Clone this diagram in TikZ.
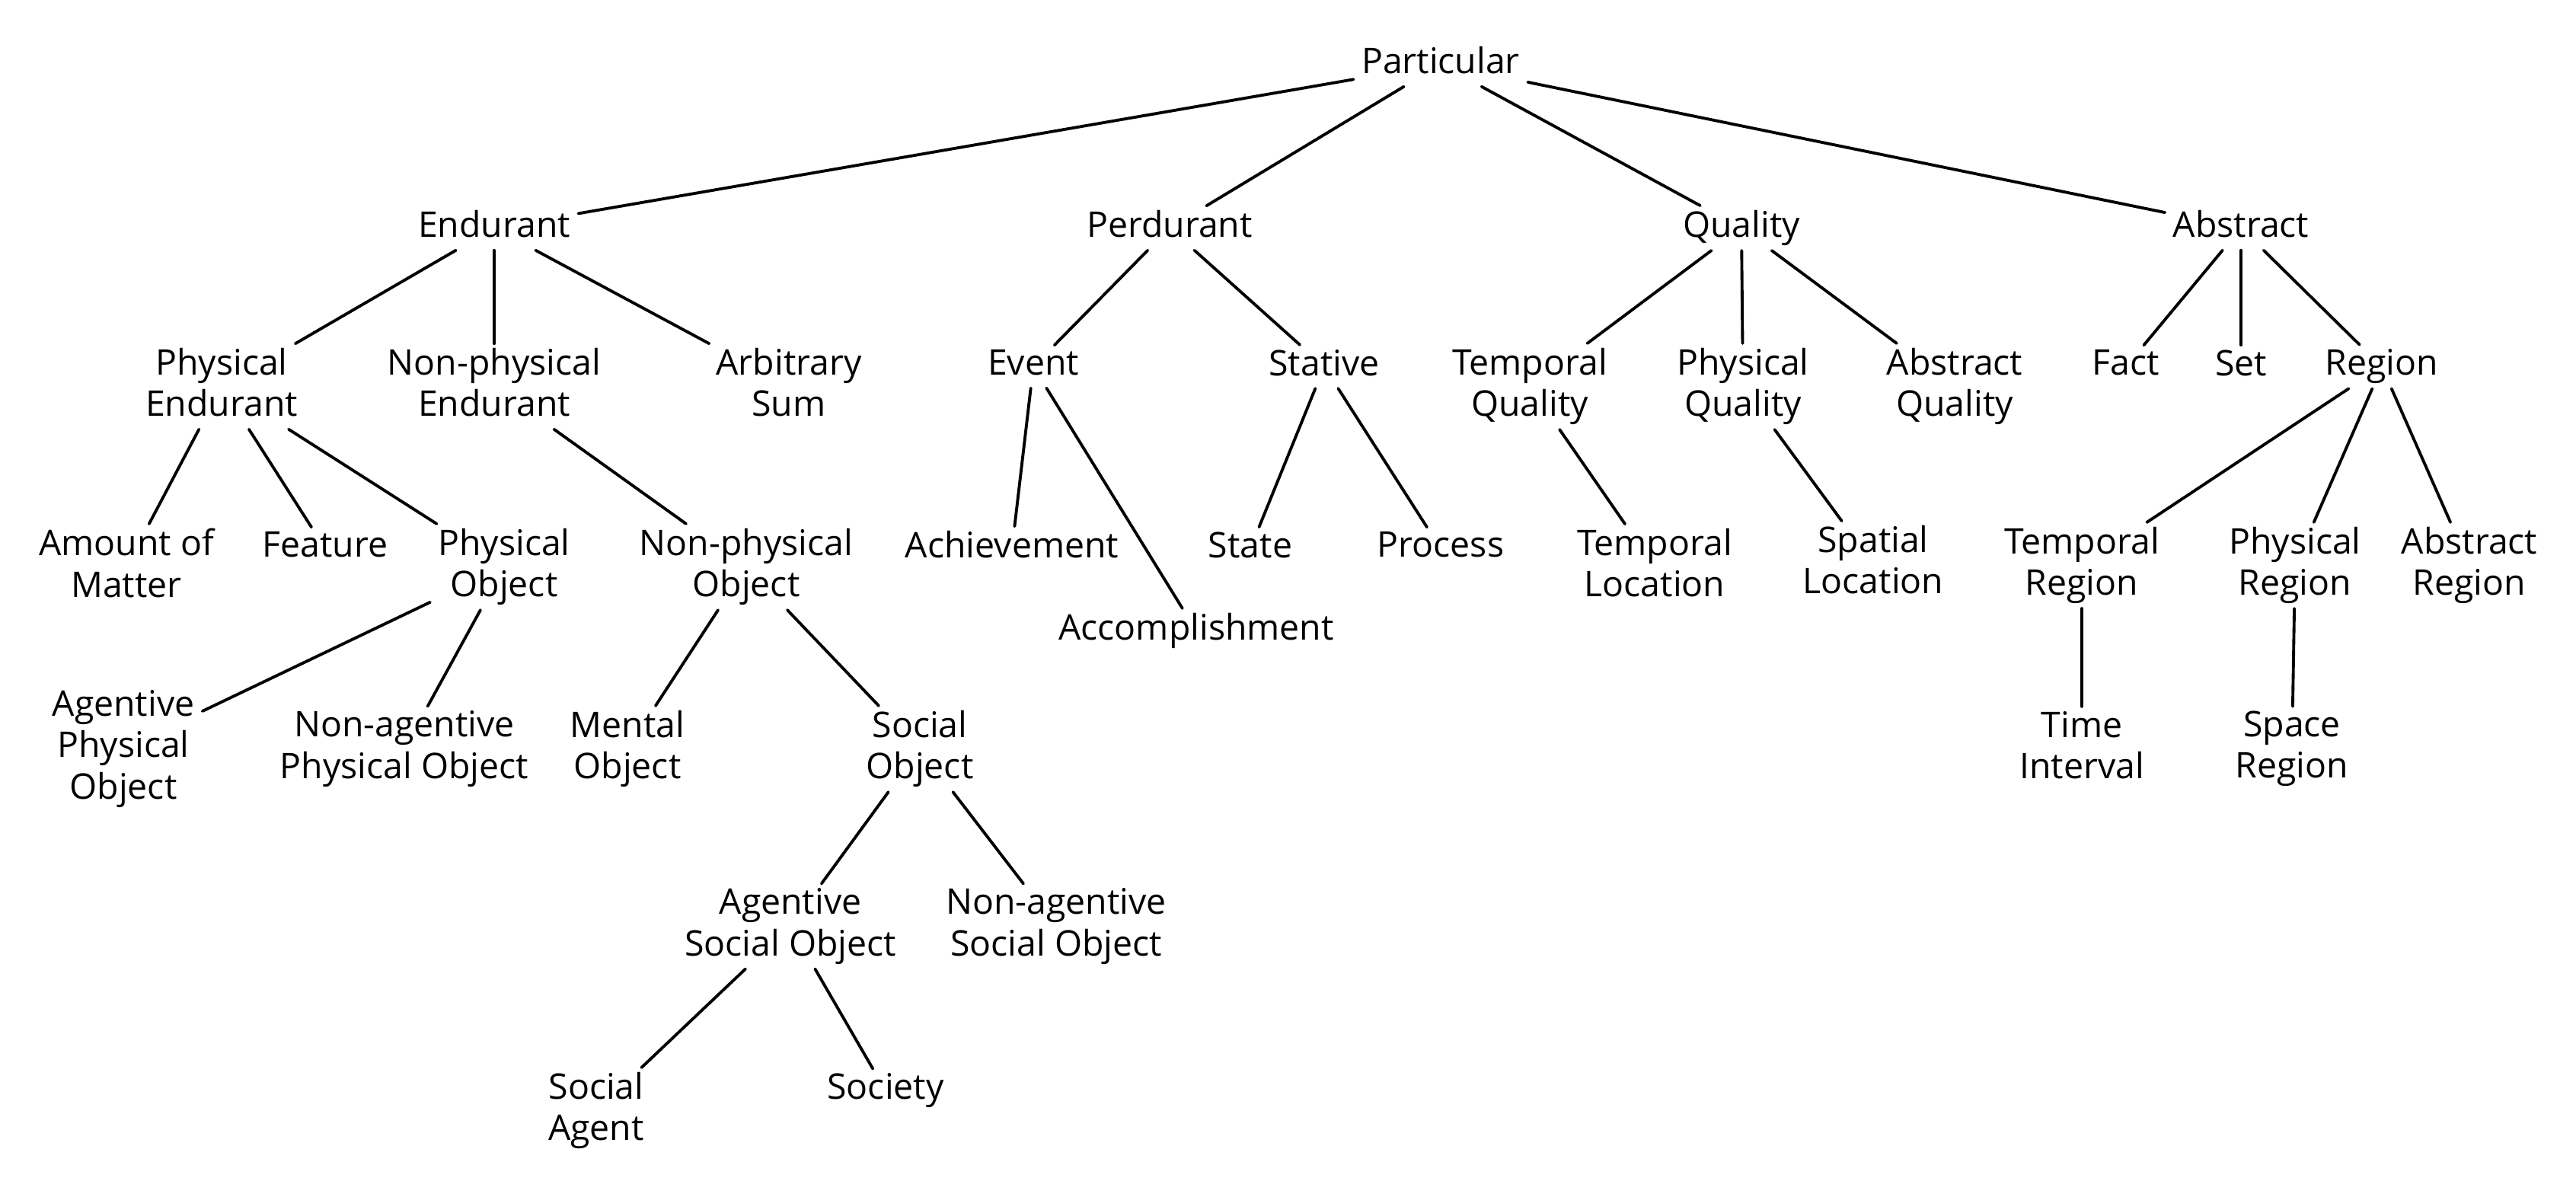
\documentclass[tikz,border=0pt]{standalone}
\usepackage{fontspec}
\setmainfont{Open Sans}
\usepackage{tikz}

\begin{document}
\begin{tikzpicture}[
			concept/.style={
				align=center, inner xsep=3pt, inner ysep=1.8pt, outer sep=0pt,
				yshift=-1.85pt,
				font=\fontsize{13.2}{15.4}\selectfont,
				execute at begin node=\rule[-3pt]{0pt}{12.3pt},
				execute at end node=\rule[-3pt]{0pt}{12.3pt}
			},
			branch/.style={draw=black, line width=1.1pt, line cap=round}
			]
			
			\useasboundingbox (0,0) rectangle (33.83,-15.50);
			
			% top and first level
			\node[concept] (part) at (18.92,-0.78) {Particular};
			\node[concept] (endu) at (6.49,-2.93) {Endurant};
			\node[concept] (perd) at (15.36,-2.93) {Perdurant};
			\node[concept] (qual) at (22.87,-2.93) {Quality};
			\node[concept] (abst) at (29.43,-2.93) {Abstract};
			
			% second level
			\node[concept] (physend) at (2.91,-5.01) {Physical\\Endurant};
			\node[concept] (nphysend) at (6.49,-5.01) {Non-physical\\Endurant};
			\node[concept] (arbsum) at (10.36,-5.01) {Arbitrary\\Sum};
			\node[concept] (event) at (13.57,-4.75) {Event};
			\node[concept] (stative) at (17.39,-4.75) {Stative};
			\node[concept] (tempqual) at (20.09,-5.01) {Temporal\\Quality};
			\node[concept] (physqual) at (22.89,-5.01) {Physical\\Quality};
			\node[concept] (absqual) at (25.67,-5.01) {Abstract\\Quality};
			\node[concept] (fact) at (27.92,-4.75) {Fact};
			\node[concept] (set) at (29.43,-4.75) {Set};
			\node[concept] (region) at (31.28,-4.75) {Region};
			
			% third level
			\node[concept] (amount) at (1.66,-7.38) {Amount of\\Matter};
			\node[concept] (feature) at (4.27,-7.14) {Feature};
			\node[concept] (physobj) at (6.62,-7.38) {Physical\\Object};
			\node[concept] (nphysobj) at (9.80,-7.38) {Non-physical\\Object};
			\node[concept] (achiev) at (13.29,-7.14) {Achievement};
			\node[concept] (accompl) at (15.71,-8.22) {Accomplishment};
			\node[concept] (state) at (16.42,-7.14) {State};
			\node[concept] (process) at (18.92,-7.14) {Process};
			\node[concept] (temploc) at (21.73,-7.38) {Temporal\\Location};
			\node[concept] (spatloc) at (24.60,-7.34) {Spatial\\Location};
			\node[concept] (tempreg) at (27.34,-7.36) {Temporal\\Region};
			\node[concept] (physreg) at (30.14,-7.36) {Physical\\Region};
			\node[concept] (absreg) at (32.43,-7.36) {Abstract\\Region};
			
			% fourth level and below
			\node[concept] (agphysobj) at (1.62,-9.77) {Agentive\\Physical\\Object};
			\node[concept] (nagphysobj) at (5.31,-9.77) {Non-agentive\\Physical Object};
			\node[concept] (mentobj) at (8.24,-9.77) {Mental\\Object};
			\node[concept] (socobj) at (12.08,-9.77) {Social\\Object};
			\node[concept] (timeint) at (27.34,-9.77) {Time\\Interval};
			\node[concept] (spacereg) at (30.10,-9.77) {Space\\Region};
			\node[concept] (agsocobj) at (10.38,-12.10) {Agentive\\Social Object};
			\node[concept] (nagsocobj) at (13.87,-12.10) {Non-agentive\\Social Object};
			\node[concept] (socagent) at (7.83,-14.52) {Social\\Agent};
			\node[concept] (society) at (11.63,-14.26) {Society};
			
			% branches
			\draw[branch] (part) -- (endu);
			\draw[branch] (part) -- (perd);
			\draw[branch] (part) -- (qual);
			\draw[branch] (part) -- (abst);
			
			\draw[branch] (endu) -- (physend);
			\draw[branch] (endu) -- (nphysend);
			\draw[branch] (endu) -- (arbsum);
			\draw[branch] (physend) -- (amount);
			\draw[branch] (physend) -- (feature);
			\draw[branch] (physend) -- (physobj);
			\draw[branch] (physobj) -- (agphysobj);
			\draw[branch] (physobj) -- (nagphysobj);
			\draw[branch] (nphysend) -- (nphysobj);
			\draw[branch] (nphysobj) -- (mentobj);
			\draw[branch] (nphysobj) -- (socobj);
			\draw[branch] (socobj) -- (agsocobj);
			\draw[branch] (socobj) -- (nagsocobj);
			\draw[branch] (agsocobj) -- (socagent);
			\draw[branch] (agsocobj) -- (society);
			
			\draw[branch] (perd) -- (event);
			\draw[branch] (perd) -- (stative);
			\draw[branch] (event) -- (achiev);
			\draw[branch] (event) -- (accompl);
			\draw[branch] (stative) -- (state);
			\draw[branch] (stative) -- (process);
			
			\draw[branch] (qual) -- (tempqual);
			\draw[branch] (qual) -- (physqual);
			\draw[branch] (qual) -- (absqual);
			\draw[branch] (tempqual) -- (temploc);
			\draw[branch] (physqual) -- (spatloc);
			
			\draw[branch] (abst) -- (fact);
			\draw[branch] (abst) -- (set);
			\draw[branch] (abst) -- (region);
			\draw[branch] (region) -- (tempreg);
			\draw[branch] (region) -- (physreg);
			\draw[branch] (region) -- (absreg);
			\draw[branch] (tempreg) -- (timeint);
			\draw[branch] (physreg) -- (spacereg);
			
		\end{tikzpicture}
\end{document}
